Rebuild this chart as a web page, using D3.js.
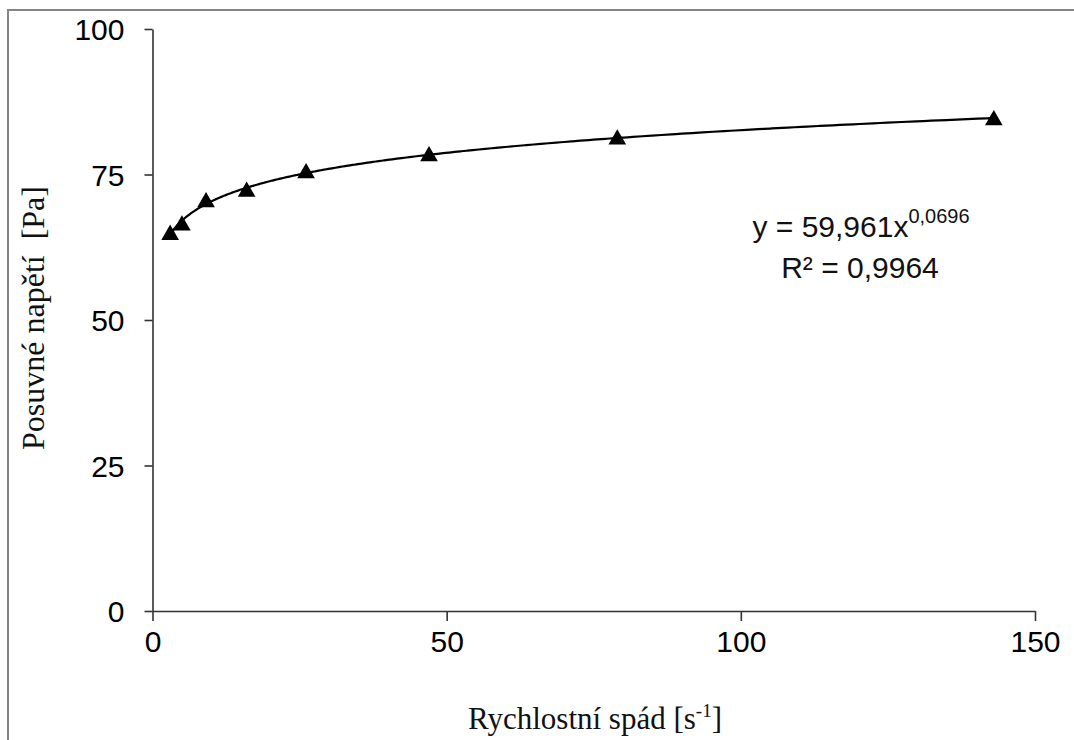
<!DOCTYPE html>
<html><head><meta charset="utf-8">
<script src="https://cdn.jsdelivr.net/npm/d3@7"></script>
<style>
html,body{margin:0;padding:0;background:#fff;}
svg{display:block;}
</style></head>
<body>
<script>
// Data
const shearRate = [3, 5, 9.1, 16, 26.1, 47, 79, 143];
const shearStress = [64.9, 66.5, 70.5, 72.3, 75.5, 78.4, 81.3, 84.6];
const xTicks = [0, 50, 100, 150];
const yTicks = [0, 25, 50, 75, 100];
const fitA = 59.961, fitB = 0.0696;
const eqMain = "y = 59,961x";
const eqExp = "0,0696";
const eqR2 = "R² = 0,9964";
const xTitle = "Rychlostní spád [s";
const xTitleSup = "-1";
const yTitle = "Posuvné napětí  [Pa]";

const W = 1074, H = 740;
const svg = d3.select("body").append("svg").attr("width", W).attr("height", H);

// outer frame
svg.append("rect").attr("x", 8).attr("y", 10).attr("width", W + 20).attr("height", H + 20)
  .attr("fill", "#fff").attr("stroke", "#858585").attr("stroke-width", 2);

const x = d3.scaleLinear().domain([0, 150]).range([152.5, 1035]);
const y = d3.scaleLinear().domain([0, 100]).range([611, 29]);

const axisColor = "#333";
const gx = svg.append("g").attr("transform", `translate(0,${y(0)})`)
  .call(d3.axisBottom(x).tickValues(xTicks).tickSize(10).tickPadding(10).tickSizeOuter(0));
const gy = svg.append("g").attr("transform", `translate(${x(0)},0)`)
  .call(d3.axisLeft(y).tickValues(yTicks).tickSize(8).tickPadding(20).tickSizeOuter(0));
[gx, gy].forEach(g => {
  g.select(".domain").attr("stroke", axisColor).attr("stroke-width", 1.6);
  g.selectAll(".tick line").attr("stroke", axisColor).attr("stroke-width", 1.6);
  g.selectAll(".tick text").attr("fill", "#000")
    .style("font-family", "'Liberation Sans', Arial, sans-serif").style("font-size", "30px");
});
gy.selectAll(".tick text").attr("dy", "0.36em");
gx.selectAll(".tick text").attr("dy", "0.7em");

// trend line (power fit shown on chart)
const x0 = d3.min(shearRate), x1 = d3.max(shearRate);
const fitPts = d3.range(0, 201).map(i => {
  const xv = x0 * Math.pow(x1 / x0, i / 200);
  return [xv, fitA * Math.pow(xv, fitB)];
});
svg.append("path").datum(fitPts)
  .attr("d", d3.line().x(d => x(d[0])).y(d => y(d[1])).curve(d3.curveMonotoneX))
  .attr("fill", "none").attr("stroke", "#000").attr("stroke-width", 2.2);

// markers
const tri = d3.symbol().type(d3.symbolTriangle).size(135);
svg.append("g").selectAll("path").data(shearRate).join("path")
  .attr("d", tri)
  .attr("transform", (d, i) => `translate(${x(d)},${y(shearStress[i]) + 1.5})`)
  .attr("fill", "#000");

// equation text
const eq = svg.append("text").attr("x", 861).attr("y", 237).attr("text-anchor", "middle")
  .style("font-family", "'Liberation Sans', Arial, sans-serif").style("font-size", "30px").attr("fill", "#111");
eq.append("tspan").text(eqMain);
eq.append("tspan").attr("dy", -14).style("font-size", "20px").text(eqExp);
svg.append("text").attr("x", 860).attr("y", 278).attr("text-anchor", "middle")
  .style("font-family", "'Liberation Sans', Arial, sans-serif").style("font-size", "30px").attr("fill", "#111")
  .text(eqR2);

// axis titles
const xt = svg.append("text").attr("x", 595).attr("y", 729).attr("text-anchor", "middle")
  .style("font-family", "'Liberation Serif', 'Times New Roman', serif").style("font-size", "31px").attr("fill", "#111");
xt.append("tspan").text(xTitle);
xt.append("tspan").attr("dy", -12).style("font-size", "19px").text(xTitleSup);
xt.append("tspan").attr("dy", 12).text("]");

svg.append("text").attr("transform", "translate(44,318) rotate(-90)").attr("text-anchor", "middle")
  .style("font-family", "'Liberation Serif', 'Times New Roman', serif").style("font-size", "32px")
  .style("white-space", "pre").attr("fill", "#111").text(yTitle);
</script>
</body></html>
